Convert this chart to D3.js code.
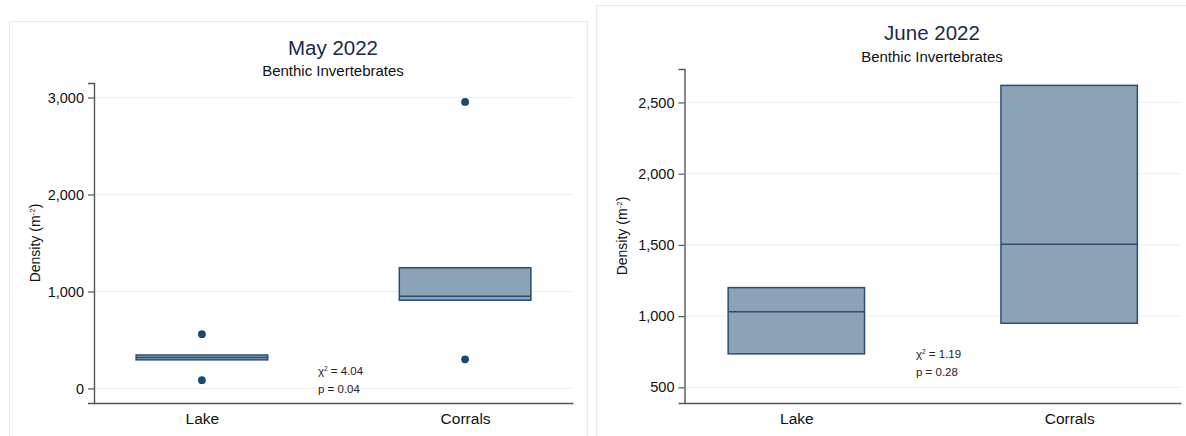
<!DOCTYPE html>
<html>
<head>
<meta charset="utf-8">
<script src="https://cdn.jsdelivr.net/npm/d3@7"></script>
<style>
  html, body { margin: 0; padding: 0; background: #fff; }
  svg { display: block; font-family: "Liberation Sans", Arial, Helvetica, sans-serif; }
</style>
</head>
<body>
<svg id="chart" width="1186" height="436"></svg>
<script>
// Benthic invertebrate density (per m²), Lake vs Corrals
const categories = ["Lake", "Corrals"];

// May 2022 box summaries and outlying points
const mayQ1 = [295, 910];
const mayMedian = [320, 950];
const mayQ3 = [345, 1245];
const mayPoints = [[560, 85], [2955, 300]];
const mayTicks = [0, 1000, 2000, 3000];
const mayChi = "4.04";
const mayP = "0.04";

// June 2022 box summaries
const juneQ1 = [735, 950];
const juneMedian = [1030, 1505];
const juneQ3 = [1200, 2620];
const junePoints = [[], []];
const juneTicks = [500, 1000, 1500, 2000, 2500];
const juneChi = "1.19";
const juneP = "0.28";

const svg = d3.select("#chart");
const fmt = d3.format(",");

const panels = [
  {
    title: "May 2022", q1: mayQ1, med: mayMedian, q3: mayQ3, pts: mayPoints,
    ticks: mayTicks, chi: mayChi, p: mayP, domain: [-150, 3150],
    frame: { x: 9.5, y: 21.5, w: 578, h: 440 },
    plot: { left: 94, right: 573, top: 83, bottom: 403 },
    titleY: 55, subY: 76, titleX: 333, ylabX: 40, statX: 318, statY: 375
  },
  {
    title: "June 2022", q1: juneQ1, med: juneMedian, q3: juneQ3, pts: junePoints,
    ticks: juneTicks, chi: juneChi, p: juneP, domain: [390, 2735],
    frame: { x: 596.5, y: 5.5, w: 620, h: 460 },
    plot: { left: 684.5, right: 1181, top: 69, bottom: 403 },
    titleY: 40, subY: 62, titleX: 932, ylabX: 627, statX: 916, statY: 358
  }
];

panels.forEach(P => {
  const g = svg.append("g");
  const pl = P.plot;

  // panel frame
  g.append("rect")
    .attr("x", P.frame.x).attr("y", P.frame.y)
    .attr("width", P.frame.w).attr("height", P.frame.h)
    .attr("fill", "#fff").attr("stroke", "#e6ecf2").attr("stroke-width", 1.2);

  const y = d3.scaleLinear().domain(P.domain).range([pl.bottom, pl.top]);
  const x = d3.scalePoint().domain(categories).range([pl.left, pl.right]).padding(0.41);
  const bw = x.step() * 0.5;

  // gridlines
  g.append("g").selectAll("line").data(P.ticks).join("line")
    .attr("x1", pl.left).attr("x2", pl.right)
    .attr("y1", d => y(d)).attr("y2", d => y(d))
    .attr("stroke", "#edf1f5").attr("stroke-width", 1.3);

  // y axis
  const yAxis = g.append("g")
    .attr("transform", `translate(${pl.left},0)`)
    .call(d3.axisLeft(y).tickValues(P.ticks).tickFormat(fmt).tickSize(6).tickPadding(4));
  yAxis.select(".domain").attr("stroke", "#555").attr("stroke-width", 1.4);
  yAxis.selectAll(".tick line").attr("stroke", "#555").attr("stroke-width", 1.2);
  yAxis.selectAll(".tick text")
    .attr("font-size", 14.5).attr("fill", "#111")
    .attr("font-family", "Liberation Sans, Arial, sans-serif");

  // x axis
  const xAxis = g.append("g")
    .attr("transform", `translate(0,${pl.bottom})`)
    .call(d3.axisBottom(x).tickSize(0).tickPadding(10));
  xAxis.select(".domain").attr("stroke", "#555").attr("stroke-width", 1.6);
  xAxis.selectAll(".tick text")
    .attr("font-size", 15.5).attr("fill", "#111")
    .attr("font-family", "Liberation Sans, Arial, sans-serif");

  // boxes
  categories.forEach((c, i) => {
    const cx = x(c);
    g.append("rect")
      .attr("x", cx - bw / 2).attr("y", y(P.q3[i]))
      .attr("width", bw).attr("height", y(P.q1[i]) - y(P.q3[i]))
      .attr("fill", "#8ca2b7").attr("stroke", "#2c4d72").attr("stroke-width", 1.5);
    g.append("line")
      .attr("x1", cx - bw / 2).attr("x2", cx + bw / 2)
      .attr("y1", y(P.med[i])).attr("y2", y(P.med[i]))
      .attr("stroke", "#2c4d72").attr("stroke-width", 1.5);
    g.selectAll(null).data(P.pts[i]).join("circle")
      .attr("cx", cx).attr("cy", d => y(d)).attr("r", 3.9)
      .attr("fill", "#1b4870");
  });

  // titles
  g.append("text").attr("x", P.titleX).attr("y", P.titleY)
    .attr("text-anchor", "middle").attr("font-size", 20.5).attr("fill", "#1c2a4a")
    .text(P.title);
  g.append("text").attr("x", P.titleX).attr("y", P.subY)
    .attr("text-anchor", "middle").attr("font-size", 15).attr("fill", "#111")
    .text("Benthic Invertebrates");

  // y axis title
  const yl = g.append("text")
    .attr("transform", `translate(${P.ylabX},${(pl.top + pl.bottom) / 2}) rotate(-90)`)
    .attr("text-anchor", "middle").attr("font-size", 14).attr("fill", "#111");
  yl.append("tspan").text("Density (m");
  yl.append("tspan").attr("font-size", 8).attr("dy", -5).text("-2");
  yl.append("tspan").attr("dy", 5).text(")");

  // test statistics
  const t1 = g.append("text").attr("x", P.statX).attr("y", P.statY)
    .attr("font-size", 11.5).attr("fill", "#222");
  t1.append("tspan").text("χ");
  t1.append("tspan").attr("font-size", 6.5).attr("dy", -4).text("2");
  t1.append("tspan").attr("dy", 4).text(" = " + P.chi);
  g.append("text").attr("x", P.statX).attr("y", P.statY + 17.5)
    .attr("font-size", 11.5).attr("fill", "#222")
    .text("p = " + P.p);
});
</script>
</body>
</html>
